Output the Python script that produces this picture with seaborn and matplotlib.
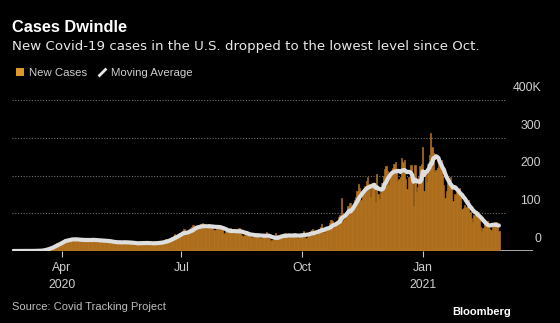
import numpy as np
import pandas as pd
import matplotlib
matplotlib.use("Agg")
import matplotlib.pyplot as plt
import matplotlib.dates as mdates
import seaborn as sns
from matplotlib.patches import Patch
from matplotlib.lines import Line2D
from matplotlib.transforms import ScaledTranslation

# ---------------- data (thousands of new cases per day) ----------------
start_date = "2020-02-24"
daily_cases_k = [
    0, 0, 0, 0, 0, 0, 0,
    0.02, 0.03, 0.05, 0.05, 0.1, 0.1, 0.15,
    0.3, 0.4, 0.5, 0.6, 0.7, 0.9, 0.9,
    1.5, 2.5, 3.5, 5, 6, 7, 9,
    10, 11, 12, 17, 18, 20, 20,
    21, 25, 26, 29, 32, 33, 26,
    29, 30, 31, 33, 34, 32, 28,
    26, 28, 29, 31, 33, 30, 27,
    26, 27, 29, 31, 34, 33, 26,
    23, 25, 28, 29, 31, 30, 26,
    22, 24, 25, 27, 28, 25, 21,
    19, 21, 22, 27, 26, 25, 20,
    21, 21, 22, 25, 25, 22, 20,
    18, 17, 20, 21, 25, 24, 20,
    19, 20, 21, 22, 23, 22, 18,
    17, 20, 21, 22, 25, 25, 19,
    19, 23, 25, 27, 31, 32, 26,
    28, 34, 36, 39, 45, 43, 40,
    40, 47, 51, 54, 57, 46, 42,
    47, 58, 61, 63, 70, 63, 60,
    60, 64, 65, 72, 74, 65, 60,
    58, 63, 69, 70, 70, 66, 55,
    55, 63, 68, 68, 66, 58, 48,
    45, 53, 54, 55, 61, 54, 47,
    46, 52, 53, 52, 61, 55, 42,
    39, 42, 47, 47, 49, 45, 37,
    35, 40, 42, 45, 47, 42, 34,
    35, 40, 40, 44, 50, 42, 31,
    26, 28, 34, 36, 47, 42, 34,
    34, 40, 39, 44, 47, 43, 38,
    38, 38, 39, 44, 47, 46, 36,
    34, 38, 44, 45, 54, 49, 35,
    37, 43, 51, 56, 57, 51, 46,
    42, 52, 59, 64, 71, 56, 48,
    58, 61, 62, 74, 82, 80, 62,
    66, 74, 79, 90, 95, 140, 78,
    85, 92, 105, 120, 128, 126, 106,
    118, 135, 142, 160, 177, 166, 135,
    157, 161, 172, 185, 195, 178, 143,
    171, 175, 181, 130, 205, 150, 139,
    157, 180, 200, 217, 225, 212, 175,
    195, 212, 220, 230, 235, 210, 185,
    190, 196, 246, 235, 240, 190, 165,
    195, 196, 228, 190, 120, 228, 155,
    170, 195, 224, 230, 275, 160, 203,
    183, 230, 255, 312, 275, 260, 210,
    215, 220, 230, 234, 240, 200, 175,
    140, 160, 185, 190, 195, 172, 133,
    152, 148, 155, 163, 167, 142, 112,
    114, 122, 116, 123, 134, 104, 88,
    77, 96, 95, 107, 103, 86, 64,
    53, 62, 72, 78, 80, 71, 57,
    56, 71, 74, 77, 78, 64, 52,
]
y_ticks = [0, 100, 200, 300, 400]
y_tick_labels = ["0", "100", "200", "300", "400K"]
x_tick_dates = ["2020-04-01", "2020-07-01", "2020-10-01", "2021-01-01"]
x_tick_labels = ["Apr\n2020", "Jul", "Oct", "Jan\n2021"]
x_limits = ["2020-02-23", "2021-03-26"]

title = "Cases Dwindle"
subtitle = "New Covid-19 cases in the U.S. dropped to the lowest level since Oct."
legend_labels = ["New Cases", "Moving Average"]
source = "Source: Covid Tracking Project"
brand = "Bloomberg"

# ---------------- styling ----------------
BG = "#000000"
BAR = "#b3721f"
LEG_SQ = "#e0962f"
LINE = "#dedede"
TXT = "#cfcfcf"

sns.set_style("dark", {"axes.facecolor": BG, "figure.facecolor": BG})
plt.rcParams["font.family"] = ["Liberation Sans", "DejaVu Sans"]

dates = pd.date_range(start_date, periods=len(daily_cases_k), freq="D")
df = pd.DataFrame({"date": mdates.date2num(dates), "cases": daily_cases_k})
df["avg"] = df["cases"].rolling(7, min_periods=1).mean()

W, H = 560, 323
fig = plt.figure(figsize=(W / 100, H / 100), dpi=100, facecolor=BG)
ax_left, ax_right, ax_bottom, ax_top = 12, 533, 251, 100
ax = fig.add_axes([ax_left / W, 1 - ax_bottom / H,
                   (ax_right - ax_left) / W, (ax_bottom - ax_top) / H])
ax.set_facecolor(BG)

sns.barplot(data=df, x="date", y="cases", native_scale=True, width=1.0,
            color=BAR, saturation=1, linewidth=0.45, edgecolor=BAR,
            errorbar=None, ax=ax, zorder=2)
sns.lineplot(data=df, x="date", y="avg", color=LINE, linewidth=3.0, ax=ax,
             zorder=3, solid_capstyle="round", solid_joinstyle="round")

ax.set_xlim(mdates.date2num(pd.to_datetime(x_limits)))
ax.set_ylim(0, 400)

for s in ax.spines.values():
    s.set_visible(False)
ax.grid(False)

grid_xmax = (505 - ax_left) / (ax_right - ax_left)
for y in y_ticks[1:]:
    ax.axhline(y, xmin=0, xmax=grid_xmax, color="#707070", lw=0.8,
               ls=(0, (1, 1.5)), zorder=1)
ax.axhline(0, color="#c8c8c8", lw=1.2, zorder=1.5)

# y labels (right side, above gridlines)
ax.set_yticks([])
off = ScaledTranslation(0, 0.12, fig.dpi_scale_trans)
lx = (541 - ax_left) / (ax_right - ax_left)
for v, lab in zip(y_ticks, y_tick_labels):
    ax.text(lx, v, lab, transform=ax.get_yaxis_transform() + off,
            ha="right", va="center", color=TXT, fontsize=8.8)

# x ticks
ax.set_xticks(mdates.date2num(pd.to_datetime(x_tick_dates)))
ax.set_xticklabels(x_tick_labels)
ax.tick_params(axis="x", length=4, width=0.8, color="#c8c8c8",
               labelcolor=TXT, labelsize=8.8, pad=4, bottom=True)
for t in ax.get_xticklabels():
    t.set_linespacing(1.5)
ax.set_xlabel("")
ax.set_ylabel("")

# titles
fig.text(12 / W, 1 - 28 / H, title, color="white", fontsize=11.8,
         fontweight="bold", va="center", ha="left")
fig.text(12 / W, 1 - 46.5 / H, subtitle, color="#e8e8e8", fontsize=9.6,
         va="center", ha="left", family="DejaVu Sans")

# legend
handles = [Patch(facecolor=LEG_SQ, edgecolor="none"),
           Line2D([0], [0], color="#e8e8e8", marker=(2, 0, -45), markersize=8,
                  markeredgewidth=2, linestyle="none")]
fig.legend(handles, legend_labels, loc="center left",
           bbox_to_anchor=(6 / W, 1 - 72.5 / H), ncol=2, frameon=False,
           handlelength=0.7, handleheight=0.7, handletextpad=0.45,
           columnspacing=0.9, fontsize=8.2, labelcolor=TXT)

# footer
fig.text(12 / W, 1 - 307 / H, source, color="#bdbdbd", fontsize=8,
         va="center", ha="left")
fig.text(511 / W, 1 - 312 / H, brand, color="white", fontsize=8,
         fontweight="bold", va="center", ha="right")

fig.savefig("out.png", dpi=100, facecolor=BG)
